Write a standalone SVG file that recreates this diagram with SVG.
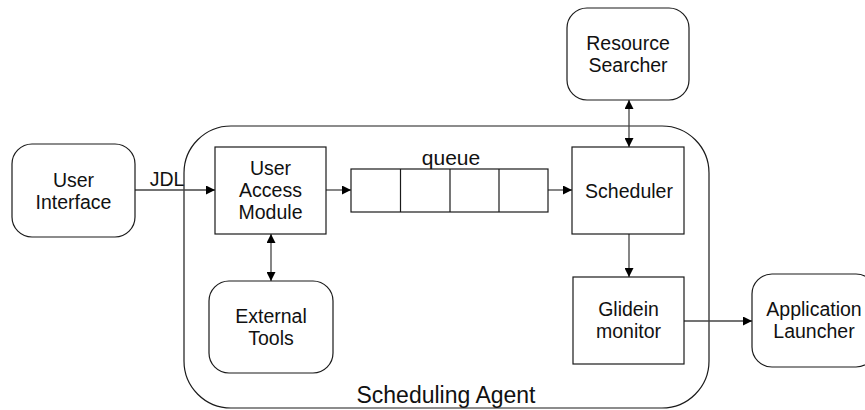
<svg xmlns="http://www.w3.org/2000/svg" width="865" height="410" viewBox="0 0 865 410">
  <style>
    .box { fill: #ffffff; stroke: #1a1a1a; stroke-width: 1.2; }
    .agent { fill: none; stroke: #1a1a1a; stroke-width: 1.2; }
    .lbl { font-family: "Liberation Sans", Arial, sans-serif; font-size: 19.5px; fill: #111111; text-anchor: middle; }
    .edge { fill: none; stroke: #444444; stroke-width: 1.3; }
  </style>
  <defs>
    <marker id="arrow" viewBox="0 0 10 10" refX="10" refY="5" markerUnits="userSpaceOnUse" markerWidth="9" markerHeight="9" orient="auto-start-reverse">
      <path d="M0,0 L10,5 L0,10 z" fill="#000000"/>
    </marker>
  </defs>

  <!-- enclosing agent boundary -->
  <g id="scheduling-agent">
    <rect class="agent" x="184" y="126" width="525" height="282" rx="47" ry="47"/>
    <text class="lbl" x="446" y="403" style="font-size:23px">Scheduling Agent</text>
  </g>

  <!-- connectors -->
  <g id="connectors">
    <line class="edge" x1="135" y1="190" x2="215" y2="190" marker-end="url(#arrow)"/>
    <line class="edge" x1="326" y1="190" x2="351" y2="190" marker-end="url(#arrow)"/>
    <line class="edge" x1="548" y1="190" x2="572" y2="190" marker-end="url(#arrow)"/>
    <line class="edge" x1="629" y1="100" x2="629" y2="147" marker-start="url(#arrow)" marker-end="url(#arrow)"/>
    <line class="edge" x1="271" y1="234" x2="271" y2="281" marker-start="url(#arrow)" marker-end="url(#arrow)"/>
    <line class="edge" x1="629" y1="234" x2="629" y2="277" marker-end="url(#arrow)"/>
    <line class="edge" x1="684" y1="321" x2="752" y2="321" marker-end="url(#arrow)"/>
    <text class="lbl" x="167" y="186">JDL</text>
  </g>

  <g id="user-interface">
    <rect class="box" x="12" y="144" width="123" height="93" rx="20" ry="20"/>
    <text class="lbl" x="73.5" y="187">User</text>
    <text class="lbl" x="73.5" y="209">Interface</text>
  </g>

  <g id="user-access-module">
    <rect class="box" x="215" y="147" width="111" height="87"/>
    <text class="lbl" x="270.5" y="175">User</text>
    <text class="lbl" x="270.5" y="197">Access</text>
    <text class="lbl" x="270.5" y="219">Module</text>
  </g>

  <g id="queue">
    <rect class="box" x="351" y="169" width="197" height="43"/>
    <line class="box" x1="400.5" y1="169" x2="400.5" y2="212"/>
    <line class="box" x1="450" y1="169" x2="450" y2="212"/>
    <line class="box" x1="499" y1="169" x2="499" y2="212"/>
    <text class="lbl" x="451" y="165" style="font-size:21px">queue</text>
  </g>

  <g id="scheduler">
    <rect class="box" x="572" y="147" width="112" height="87"/>
    <text class="lbl" x="629" y="198">Scheduler</text>
  </g>

  <g id="resource-searcher">
    <rect class="box" x="567" y="8" width="122" height="92" rx="20" ry="20"/>
    <text class="lbl" x="628" y="50">Resource</text>
    <text class="lbl" x="628" y="72">Searcher</text>
  </g>

  <g id="external-tools">
    <rect class="box" x="209" y="281" width="124" height="92" rx="20" ry="20"/>
    <text class="lbl" x="271" y="323">External</text>
    <text class="lbl" x="271" y="345">Tools</text>
  </g>

  <g id="glidein-monitor">
    <rect class="box" x="573" y="277" width="111" height="87"/>
    <text class="lbl" x="628.5" y="316">Glidein</text>
    <text class="lbl" x="628.5" y="338">monitor</text>
  </g>

  <g id="application-launcher">
    <rect class="box" x="752" y="274" width="124" height="93" rx="20" ry="20"/>
    <text class="lbl" x="814" y="316">Application</text>
    <text class="lbl" x="814" y="338">Launcher</text>
  </g>
</svg>
